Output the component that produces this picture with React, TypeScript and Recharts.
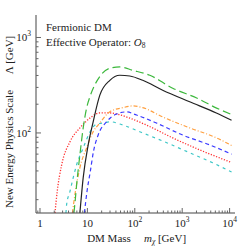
import { LineChart, Line, XAxis, YAxis, Customized } from "recharts";

// masses (GeV) and scale Lambda (GeV)
const massMajor = [1, 10, 100, 1000, 10000];
const massMinor = [
  0.9, 2, 3, 4, 5, 6, 7, 8, 9, 20, 30, 40, 50, 60, 70, 80, 90, 200, 300, 400,
  500, 600, 700, 800, 900, 2000, 3000, 4000, 5000, 6000, 7000, 8000, 9000,
];
const scaleMajor = [100, 1000];
const scaleMinor = [20, 30, 40, 50, 60, 70, 80, 90, 200, 300, 400, 500, 600, 700, 800, 900];

const solidBlack = [
  { m: 6.95, v: 14.5 }, { m: 8.16, v: 34 }, { m: 10.4, v: 75 }, { m: 13.2, v: 130 },
  { m: 18.3, v: 249 }, { m: 29.8, v: 356 }, { m: 48.3, v: 402 }, { m: 78.5, v: 395 },
  { m: 147, v: 356 }, { m: 388, v: 280 }, { m: 1438, v: 212 }, { m: 5250, v: 162 },
  { m: 11000, v: 136 },
];
const longDashGreen = [
  { m: 5.2, v: 14.5 }, { m: 5.5, v: 19 }, { m: 5.93, v: 28.7 }, { m: 6.95, v: 59 },
  { m: 8.16, v: 113 }, { m: 9.62, v: 182 }, { m: 11.3, v: 239 }, { m: 18.3, v: 390 },
  { m: 29.8, v: 476 }, { m: 48.3, v: 491 }, { m: 90.8, v: 453 }, { m: 207, v: 402 },
  { m: 631, v: 294 }, { m: 2020, v: 232 }, { m: 5320, v: 182 }, { m: 11000, v: 156 },
];
const dashDotOrange = [
  { m: 4.83, v: 14.5 }, { m: 5.46, v: 22.6 }, { m: 6.95, v: 43.2 }, { m: 9.62, v: 69.8 },
  { m: 13.1, v: 102 }, { m: 18.3, v: 127 }, { m: 29.8, v: 167 }, { m: 55.9, v: 184 },
  { m: 90.8, v: 192 }, { m: 147, v: 184 }, { m: 388, v: 147 }, { m: 1438, v: 113 },
  { m: 5320, v: 88.7 }, { m: 11000, v: 74 },
];
const dashBlue = [
  { m: 8.65, v: 14.5 }, { m: 9.8, v: 24.3 }, { m: 11.5, v: 39.3 }, { m: 13.4, v: 63.4 },
  { m: 16.9, v: 95.3 }, { m: 25.4, v: 131 }, { m: 41.2, v: 158 }, { m: 66.9, v: 166 },
  { m: 109, v: 154 }, { m: 286, v: 127 }, { m: 1025, v: 95 }, { m: 3790, v: 75 },
  { m: 11000, v: 60 },
];
const dotRed = [
  { m: 2.07, v: 14.5 }, { m: 2.3, v: 24 }, { m: 2.86, v: 46 }, { m: 4.28, v: 80.6 },
  { m: 6.95, v: 113 }, { m: 11.3, v: 143 }, { m: 18.3, v: 162 }, { m: 29.8, v: 162 },
  { m: 41.2, v: 158 }, { m: 78.5, v: 143 }, { m: 176, v: 121 }, { m: 631, v: 88.7 },
  { m: 2335, v: 66.5 }, { m: 11000, v: 49 },
];
const shortDashCyan = [
  { m: 3.53, v: 14.5 }, { m: 3.65, v: 17.8 }, { m: 4.28, v: 24.3 }, { m: 5.02, v: 34 },
  { m: 5.93, v: 46.4 }, { m: 8.16, v: 69.8 }, { m: 11.3, v: 102 }, { m: 15.6, v: 124 },
  { m: 21.2, v: 127 }, { m: 29.8, v: 131 }, { m: 55.9, v: 121 }, { m: 127, v: 103 },
  { m: 472, v: 79 }, { m: 1438, v: 62 }, { m: 4390, v: 48.7 }, { m: 11000, v: 39 },
];

const massTicks = [...massMajor, ...massMinor].sort((a, b) => a - b);
const scaleTicks = [...scaleMajor, ...scaleMinor].sort((a, b) => a - b);

const FONT = "Liberation Serif, DejaVu Serif, serif";
const FRAME = "#444";
const TICK = "#666";

function Pow({ x, y, v, anchor }: any) {
  const exp = Math.round(Math.log10(v));
  return (
    <text x={x} y={y} textAnchor={anchor} style={{ fontFamily: FONT }} fontSize={11} fill="#222">
      {exp === 0 ? "1" : "10"}
      {exp > 1 && (
        <tspan fontSize={7.5} dy={-5}>
          {exp}
        </tspan>
      )}
    </text>
  );
}

function BottomTick({ x, y, payload }: any) {
  const major = massMajor.includes(payload.value);
  return (
    <g>
      <line x1={x} x2={x} y1={y} y2={y - (major ? 5 : 2.5)} stroke={TICK} />
      {major && <Pow x={x} y={y + 14} v={payload.value} anchor="middle" />}
    </g>
  );
}

function TopTick({ x, y, payload }: any) {
  const major = massMajor.includes(payload.value);
  return <line x1={x} x2={x} y1={y} y2={y + (major ? 5 : 2.5)} stroke={TICK} />;
}

function LeftTick({ x, y, payload }: any) {
  const major = scaleMajor.includes(payload.value);
  return (
    <g>
      <line x1={x} x2={x + (major ? 5 : 2.5)} y1={y} y2={y} stroke={TICK} />
      {major && <Pow x={x - 5} y={y + 4} v={payload.value} anchor="end" />}
    </g>
  );
}

function RightTick({ x, y, payload }: any) {
  const major = scaleMajor.includes(payload.value);
  return <line x1={x} x2={x - (major ? 5 : 2.5)} y1={y} y2={y} stroke={TICK} />;
}

function Labels() {
  return (
    <g style={{ fontFamily: FONT }} fill="#222">
      <text x={46} y={31} fontSize={11}>Fermionic DM</text>
      <text x={46} y={46} fontSize={11}>
        Effective Operator: <tspan fontStyle="italic">O</tspan>
        <tspan fontSize={7.5} dy={2}>8</tspan>
      </text>
      <text x={109} y={242} fontSize={11} textAnchor="middle">DM Mass</text>
      <text x={165} y={242} fontSize={11} textAnchor="middle">
        <tspan fontStyle="italic">m</tspan>
        <tspan fontSize={7.5} dy={2} fontStyle="italic">χ</tspan>
        <tspan dy={-2}> [GeV]</tspan>
      </text>
      <text transform="rotate(-90)" x={-149} y={13} fontSize={11} textAnchor="middle">
        New Energy Physics Scale
      </text>
      <text transform="rotate(-90)" x={-55} y={13} fontSize={11} textAnchor="middle">
        Λ  [GeV]
      </text>
    </g>
  );
}

const X_DOMAIN = [0.824, 13000];
const Y_DOMAIN = [14.5, 1720];

export default function App() {
  return (
    <div style={{ position: "absolute", left: 0, top: 0, background: "#fff" }}>
      <LineChart
        width={240}
        height={252}
        margin={{ top: 15, right: 5, bottom: 0, left: 0 }}
      >
        <XAxis
          type="number"
          dataKey="m"
          scale="log"
          domain={X_DOMAIN}
          allowDataOverflow
          ticks={massTicks}
          interval={0}
          tickSize={0}
          tickMargin={0}
          tick={<BottomTick />}
          tickLine={false}
          axisLine={{ stroke: FRAME }}
          height={39}
        />
        <XAxis
          xAxisId="top"
          orientation="top"
          type="number"
          scale="log"
          domain={X_DOMAIN}
          allowDataOverflow
          ticks={massTicks}
          interval={0}
          tickSize={0}
          tickMargin={0}
          tick={<TopTick />}
          tickLine={false}
          axisLine={{ stroke: FRAME }}
          height={0}
        />
        <YAxis
          type="number"
          dataKey="v"
          scale="log"
          domain={Y_DOMAIN}
          allowDataOverflow
          ticks={scaleTicks}
          interval={0}
          tickSize={0}
          tickMargin={0}
          tick={<LeftTick />}
          tickLine={false}
          axisLine={{ stroke: FRAME }}
          width={36}
        />
        <YAxis
          yAxisId="right"
          orientation="right"
          type="number"
          scale="log"
          domain={Y_DOMAIN}
          allowDataOverflow
          ticks={scaleTicks}
          interval={0}
          tickSize={0}
          tickMargin={0}
          tick={<RightTick />}
          tickLine={false}
          axisLine={{ stroke: FRAME }}
          width={0}
        />
        <Line data={shortDashCyan} dataKey="v" type="monotone" stroke="#3cc6c6" strokeWidth={1.2} strokeDasharray="3 4" dot={false} isAnimationActive={false} />
        <Line data={dotRed} dataKey="v" type="monotone" stroke="#ff3030" strokeWidth={1.3} strokeDasharray="1.2 1.6" dot={false} isAnimationActive={false} />
        <Line data={dashBlue} dataKey="v" type="monotone" stroke="#3a3aff" strokeWidth={1.2} strokeDasharray="4 3" dot={false} isAnimationActive={false} />
        <Line data={dashDotOrange} dataKey="v" type="monotone" stroke="#ffa040" strokeWidth={1.2} strokeDasharray="4 2 1 2" dot={false} isAnimationActive={false} />
        <Line data={longDashGreen} dataKey="v" type="monotone" stroke="#3cb83c" strokeWidth={1.2} strokeDasharray="8 4" dot={false} isAnimationActive={false} />
        <Line data={solidBlack} dataKey="v" type="monotone" stroke="#222" strokeWidth={1.2} dot={false} isAnimationActive={false} />
        <Customized component={Labels} />
      </LineChart>
    </div>
  );
}
